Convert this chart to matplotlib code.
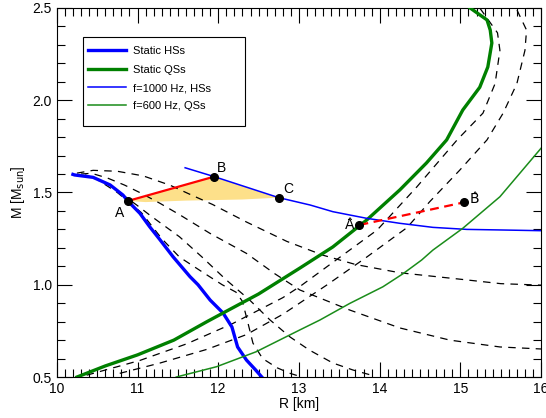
import matplotlib
matplotlib.use('Agg')
import matplotlib.pyplot as plt
from matplotlib.ticker import MultipleLocator
from matplotlib.patches import Rectangle

plt.rcParams['font.family'] = ['Liberation Sans', 'DejaVu Sans']

# static hadronic stars (R [km], M [Msun])
r_hs = [10.2, 10.22, 10.45, 10.66, 10.82, 10.88, 11.03, 11.15, 11.28, 11.44, 11.65, 11.75, 11.90, 12.06, 12.17, 12.24, 12.35, 12.46, 12.54]
m_hs = [1.598, 1.595, 1.582, 1.541, 1.486, 1.454, 1.387, 1.315, 1.243, 1.152, 1.044, 1.00, 0.917, 0.847, 0.771, 0.663, 0.592, 0.54, 0.50]

# static quark stars
r_qs = [10.25, 10.6, 11.0, 11.45, 11.86, 12.06, 12.5, 13.01, 13.42, 13.84, 14.25, 14.58, 14.83, 15.03, 15.24, 15.34, 15.39, 15.37, 15.33, 15.12]
m_qs = [0.5, 0.56, 0.62, 0.70, 0.80, 0.847, 0.95, 1.09, 1.205, 1.351, 1.514, 1.66, 1.785, 1.947, 2.07, 2.18, 2.31, 2.38, 2.435, 2.5]

# f = 1000 Hz hadronic stars
r_f1000 = [11.59, 11.95, 12.75, 13.14, 13.42, 13.84, 14.25, 14.66, 15.08, 15.49, 16.0]
m_f1000 = [1.634, 1.586, 1.472, 1.432, 1.396, 1.36, 1.333, 1.311, 1.30, 1.297, 1.293]

# f = 600 Hz quark stars
r_f600 = [11.48, 11.98, 12.47, 13.01, 13.26, 13.63, 14.04, 14.29, 14.52, 14.66, 15.03, 15.49, 16.0]
m_f600 = [0.5, 0.556, 0.637, 0.755, 0.809, 0.899, 0.989, 1.06, 1.134, 1.188, 1.306, 1.477, 1.74]

# dashed sequences (hadronic branch)
d1_r = [10.25, 10.45, 10.75, 11.07, 11.4, 11.65, 11.93, 12.35, 12.85, 13.3, 13.7, 14.25, 15.0, 15.5, 16.0]
d1_m = [1.605, 1.62, 1.615, 1.59, 1.54, 1.49, 1.435, 1.34, 1.235, 1.16, 1.11, 1.065, 1.03, 1.006, 0.998]
d2_r = [10.3, 10.43, 10.63, 10.84, 11.05, 11.28, 11.52, 11.9, 12.35, 12.7, 13.01, 13.63, 14.25, 14.87, 15.49, 16.0]
d2_m = [1.6, 1.604, 1.578, 1.54, 1.495, 1.441, 1.38, 1.278, 1.17, 1.06, 0.972, 0.863, 0.766, 0.70, 0.663, 0.652]
d3_r = [10.35, 10.49, 10.66, 10.82, 10.99, 11.15, 11.3, 11.52, 11.8, 12.1, 12.39, 12.64, 12.89, 13.13, 13.42, 13.67, 13.94]
d3_m = [1.595, 1.576, 1.54, 1.486, 1.432, 1.378, 1.33, 1.26, 1.15, 1.026, 0.917, 0.81, 0.717, 0.646, 0.576, 0.538, 0.505]
d4_r = [10.45, 10.75, 11.05, 11.3, 11.52, 11.8, 12.05, 12.22, 12.3, 12.37, 12.43, 12.55, 12.73, 12.89, 13.0]
d4_m = [1.585, 1.5, 1.39, 1.25, 1.15, 1.07, 1.0, 0.96, 0.91, 0.79, 0.684, 0.60, 0.55, 0.52, 0.505]

# dashed sequences (quark branch)
q1_r = [10.37, 11.03, 11.61, 12.18, 12.8, 13.01, 13.51, 13.97, 14.46, 14.96, 15.28, 15.43, 15.49, 15.46, 15.24]
q1_m = [0.51, 0.59, 0.68, 0.79, 0.93, 0.99, 1.15, 1.297, 1.53, 1.785, 1.93, 2.09, 2.27, 2.365, 2.5]
q2_r = [10.78, 11.28, 11.86, 12.35, 12.8, 13.35, 13.84, 14.34, 14.62, 14.99, 15.33, 15.53, 15.7, 15.8, 15.82, 15.7]
q2_m = [0.52, 0.576, 0.65, 0.73, 0.84, 1.0, 1.15, 1.31, 1.45, 1.62, 1.785, 1.93, 2.09, 2.27, 2.38, 2.49]

dashed_r = [d1_r, d2_r, d3_r, d4_r, q1_r, q2_r]
dashed_m = [d1_m, d2_m, d3_m, d4_m, q1_m, q2_m]

# marked configurations
pt_A = (10.88, 1.454)
pt_B = (11.95, 1.586)
pt_C = (12.75, 1.472)
pt_Ah = (13.75, 1.324)
pt_Bh = (15.05, 1.447)

# lower edge of the shaded region, from C back to A
edge_r = [12.3, 11.6, 11.1]
edge_m = [1.462, 1.456, 1.448]

fig = plt.figure(figsize=(5.46, 4.18), dpi=100)
ax = fig.add_axes([0.104, 0.098, 0.887, 0.883])

# shaded triangle A-B-C
fill_r = [pt_A[0], pt_B[0], 12.2, pt_C[0]] + edge_r
fill_m = [pt_A[1], pt_B[1], 1.55, pt_C[1]] + edge_m
ax.fill(fill_r, fill_m, color='#fde08a', lw=0, zorder=1)

for rr, mm in zip(dashed_r, dashed_m):
    ax.plot(rr, mm, color='black', lw=0.9, ls=(0, (6, 5)), zorder=2)

ax.plot(r_hs, m_hs, color='#0000ff', lw=2.4, label='Static HSs', zorder=3)
ax.plot(r_qs, m_qs, color='#008000', lw=2.4, label='Static QSs', zorder=3)
ax.plot(r_f1000, m_f1000, color='#0000ff', lw=1.1, label='f=1000 Hz, HSs', zorder=3)
ax.plot(r_f600, m_f600, color='#1a8c1a', lw=1.1, label='f=600 Hz, QSs', zorder=3)

ax.plot([pt_A[0], pt_B[0]], [pt_A[1], pt_B[1]], color='red', lw=1.6, zorder=4)
ax.plot([pt_Ah[0], pt_Bh[0]], [pt_Ah[1], pt_Bh[1]], color='red', lw=1.6, ls=(0, (4, 2.5)), zorder=4)

for p in [pt_A, pt_B, pt_C, pt_Ah, pt_Bh]:
    ax.plot(p[0], p[1], 'o', color='black', ms=5.5, zorder=5)

ax.text(pt_A[0] - 0.05, pt_A[1] - 0.025, 'A', ha='right', va='top', fontsize=10)
ax.text(pt_B[0] + 0.03, pt_B[1] + 0.01, 'B', ha='left', va='bottom', fontsize=10)
ax.text(pt_C[0] + 0.06, pt_C[1] + 0.01, 'C', ha='left', va='bottom', fontsize=10)
ax.text(pt_Ah[0] - 0.06, pt_Ah[1] - 0.02, 'A\u0302', ha='right', va='baseline', fontsize=10,
        family=['DejaVu Sans'])
ax.text(pt_Bh[0] + 0.06, pt_Bh[1] - 0.005, 'B\u0302', ha='left', va='baseline', fontsize=10,
        family=['DejaVu Sans'])

ax.set_xlim(10, 16)
ax.set_ylim(0.5, 2.5)
ax.xaxis.set_major_locator(MultipleLocator(1))
ax.xaxis.set_minor_locator(MultipleLocator(0.1))
ax.yaxis.set_major_locator(MultipleLocator(0.5))
ax.yaxis.set_minor_locator(MultipleLocator(0.1))
ax.tick_params(which='both', direction='in', top=True, right=True, labelsize=10, width=0.8)
ax.tick_params(which='major', length=11)
ax.tick_params(which='minor', length=6)
ax.set_xticks([10, 11, 12, 13, 14, 15, 16])
ax.set_yticks([0.5, 1.0, 1.5, 2.0, 2.5])
ax.set_xticklabels(['10', '11', '12', '13', '14', '15', '16'])
ax.set_yticklabels(['0.5', '1.0', '1.5', '2.0', '2.5'])

ax.set_xlabel('R [km]', fontsize=10, labelpad=1)
ax.set_ylabel(r'M [M$_{\rm sun}$]', fontsize=10, labelpad=4)

# legend without its own frame; the box is drawn wider, as in the original
leg = ax.legend(loc='upper left', bbox_to_anchor=(0.058, 0.905), borderaxespad=0,
                fontsize=8, frameon=False, handlelength=3.4, borderpad=0.3,
                labelspacing=0.75, handletextpad=0.6)
ax.add_patch(Rectangle((0.054, 0.679), 0.335, 0.242, transform=ax.transAxes,
                       fill=False, edgecolor='black', lw=0.8, zorder=6))

fig.savefig('out.png', dpi=100)
